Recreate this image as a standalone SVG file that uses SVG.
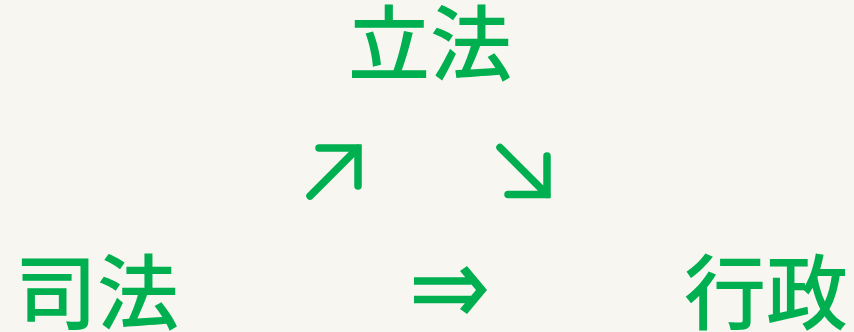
<svg xmlns="http://www.w3.org/2000/svg" width="854" height="332" viewBox="0 0 854 332">
<style>
.t{font-family:"Noto Sans CJK JP","Noto Sans CJK SC",sans-serif;font-size:82px;font-weight:500;fill:#00b050;}
.a{fill:none;stroke:#00b050;stroke-width:7.5;stroke-linecap:round;stroke-linejoin:miter;}
.f{fill:#00b050;}
</style>
<rect width="854" height="332" fill="#f7f6f1"/>
<g id="node-rippou"><text class="t" x="348" y="74">立法</text></g>
<g id="node-shihou"><text class="t" x="15" y="323">司法</text></g>
<g id="node-gyousei"><text class="t" x="684" y="323">行政</text></g>
<g id="connectors">
<path class="a" d="M319,148 H358 V186 M358,148 L310,196"/>
<path class="a" d="M547,156 V194.5 H508 M547,194.5 L500,147.5"/>
<path class="f" d="M414,277.3 H471 V284.8 H414 Z M414,295.7 H471 V303.2 H414 Z M460,271 L467,266 L487,290 L467,314 L460,309 L476,290 Z"/>
</g>
</svg>
